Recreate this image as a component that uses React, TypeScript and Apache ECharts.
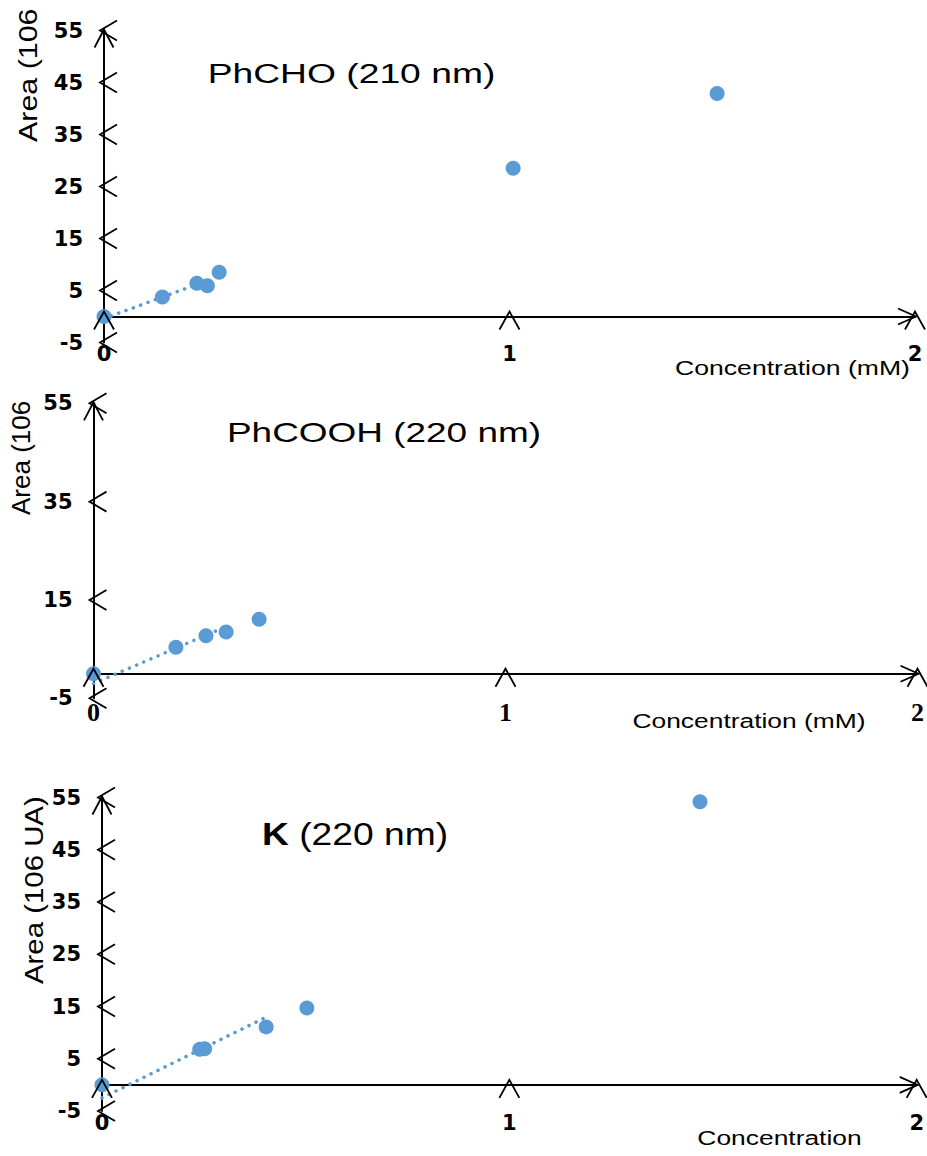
import React, { useEffect, useRef } from 'react';
import * as echarts from 'echarts';

// ---------- data ----------
const xTicks = [0, 1, 2];
const yTicks1 = [-5, 5, 15, 25, 35, 45, 55];
const yTicks2 = [-5, 15, 35, 55];
const yTicks3 = [-5, 5, 15, 25, 35, 45, 55];

const phchoConc = [0, 0.144, 0.229, 0.255, 0.284, 1.009, 1.512];
const phchoArea = [0, 3.75, 6.4, 5.9, 8.5, 28.5, 42.9];
const phchoTrendConc = [0, 0.255];
const phchoTrendArea = [-0.4, 6.9];

const phcoohConc = [0, 0.2, 0.273, 0.322, 0.402];
const phcoohArea = [0, 5.4, 7.7, 8.5, 11.1];
const phcoohTrendConc = [0, 0.322];
const phcoohTrendArea = [-2.0, 9.6];

const kConc = [0, 0.24, 0.252, 0.403, 0.503, 1.468];
const kArea = [0, 6.8, 6.9, 11.1, 14.7, 54.2];
const kTrendConc = [0, 0.404];
const kTrendArea = [-2.5, 13.0];

const yNameShort = 'Area (106';
const yNameFull = 'Area (106 UA)';
const xName1 = 'Concentration (mM)';
const xName3 = 'Concentration';

// ---------- helpers ----------
const BLUE = '#5B9BD5';
const SANS = "'Liberation Sans', Arial, sans-serif";
const DEJAVU = "'DejaVu Sans', sans-serif";
const SERIF = "'Liberation Serif', 'Times New Roman', serif";
const ARROW = { stroke: '#000', lineWidth: 1.8, fill: 'none' };

function zip(a: number[], b: number[]) {
  return a.map((v, i) => [v, b[i]]);
}

function yTickRender(params: any, api: any) {
  const v = api.value(1);
  const p = api.coord([0, v]);
  const x = p[0], y = p[1];
  const children: any[] = [
    { type: 'polyline', shape: { points: [[x + 13, y - 10], [x - 4, y], [x + 13, y + 10]] }, style: ARROW },
  ];
  if (params.dataIndex === params.dataInsideLength - 1) {
    children.push({ type: 'polyline', shape: { points: [[x - 9.5, y + 17], [x, y - 1], [x + 9.5, y + 17]] }, style: ARROW });
  }
  return { type: 'group', children };
}

function xTickRender(params: any, api: any) {
  const v = api.value(0);
  const p = api.coord([v, 0]);
  const x = p[0], y = p[1];
  const children: any[] = [
    { type: 'polyline', shape: { points: [[x - 10, y + 13], [x, y - 5], [x + 10, y + 13]] }, style: ARROW },
  ];
  if (params.dataIndex === params.dataInsideLength - 1) {
    children.push({ type: 'polyline', shape: { points: [[x - 17, y - 8], [x + 1, y], [x - 17, y + 8]] }, style: ARROW });
  }
  return { type: 'group', children };
}

type Cfg = {
  yTicks: number[];
  conc: number[];
  area: number[];
  trendConc: number[];
  trendArea: number[];
  grid: { left: number; top: number; width: number; height: number };
  xLabel: any;
  yLabelPad: number;
  graphic: any[];
};

function makeOption(cfg: Cfg) {
  const yt = cfg.yTicks;
  return {
    animation: false,
    grid: cfg.grid,
    xAxis: {
      type: 'value',
      min: xTicks[0],
      max: xTicks[xTicks.length - 1],
      interval: xTicks[1] - xTicks[0],
      axisLine: { show: true, onZero: true, lineStyle: { color: '#000', width: 2 } },
      axisTick: { show: false },
      splitLine: { show: false },
      axisLabel: { color: '#000', fontWeight: 'bold', ...cfg.xLabel },
    },
    yAxis: {
      type: 'value',
      min: yt[0],
      max: yt[yt.length - 1],
      interval: yt[1] - yt[0],
      axisLine: { show: true, onZero: true, lineStyle: { color: '#000', width: 2 } },
      axisTick: { show: false },
      splitLine: { show: false },
      axisLabel: {
        color: '#000',
        fontWeight: 'bold',
        fontFamily: DEJAVU,
        fontSize: 21,
        margin: 21,
        padding: [cfg.yLabelPad, 0, 0, 0],
      },
    },
    series: [
      {
        type: 'line',
        data: zip(cfg.trendConc, cfg.trendArea),
        symbol: 'none',
        silent: true,
        z: 2,
        lineStyle: { color: BLUE, width: 3.5, type: [0.1, 7.7], cap: 'round' },
      },
      {
        type: 'scatter',
        data: zip(cfg.conc, cfg.area),
        symbolSize: 15,
        z: 3,
        itemStyle: { color: BLUE, opacity: 1 },
      },
      {
        type: 'custom',
        data: yt.map((v) => [0, v]),
        renderItem: yTickRender,
        clip: false,
        silent: true,
        z: 10,
      },
      {
        type: 'custom',
        data: xTicks.map((v) => [v, 0]),
        renderItem: xTickRender,
        clip: false,
        silent: true,
        z: 10,
      },
    ],
    graphic: cfg.graphic,
  };
}

function txt(text: string, x: number, y: number, size: number, scaleX: number, extra: any = {}) {
  return {
    type: 'text',
    x,
    y,
    scaleX,
    style: {
      text,
      fontFamily: SANS,
      fontSize: size,
      fill: '#000',
      align: 'center',
      verticalAlign: 'middle',
      ...extra,
    },
  };
}

function yNameText(text: string, x: number, y: number, stretch: number) {
  return {
    type: 'text',
    x,
    y,
    rotation: Math.PI / 2,
    scaleX: stretch,
    style: {
      text,
      fontFamily: SANS,
      fontSize: 26,
      fill: '#000',
      align: 'left',
      verticalAlign: 'middle',
    },
  };
}

const T1 = 0, T2 = 388, T3 = 750;

const PANELS: { top: number; height: number; cfg: Cfg }[] = [
  {
    top: T1,
    height: T2 - T1,
    cfg: {
      yTicks: yTicks1,
      conc: phchoConc,
      area: phchoArea,
      trendConc: phchoTrendConc,
      trendArea: phchoTrendArea,
      grid: { left: 104, top: 30.5 - T1, width: 811, height: 312 },
      xLabel: { fontFamily: DEJAVU, fontSize: 21, margin: 1 },
      yLabelPad: 12,
      graphic: [
        txt('PhCHO (210 nm)', 351.5, 73 - T1, 28, 1.33),
        txt(xName1, 792.5, 368 - T1, 20, 1.33),
        yNameText(yNameShort, 28, 142 - T1, 1.17),
      ],
    },
  },
  {
    top: T2,
    height: T3 - T2,
    cfg: {
      yTicks: yTicks2,
      conc: phcoohConc,
      area: phcoohArea,
      trendConc: phcoohTrendConc,
      trendArea: phcoohTrendArea,
      grid: { left: 93.5, top: 403.3 - T2, width: 825, height: 295 },
      xLabel: { fontFamily: SERIF, fontSize: 26, margin: 1 },
      yLabelPad: 4,
      graphic: [
        txt('PhCOOH (220 nm)', 384, 431.7 - T2, 28, 1.32),
        txt(xName1, 749, 721 - T2, 20, 1.32),
        yNameText(yNameShort, 21, 515 - T2, 1.0),
      ],
    },
  },
  {
    top: T3,
    height: 1156 - T3,
    cfg: {
      yTicks: yTicks3,
      conc: kConc,
      area: kArea,
      trendConc: kTrendConc,
      trendArea: kTrendArea,
      grid: { left: 102, top: 797.5 - T3, width: 818, height: 313.5 },
      xLabel: { fontFamily: DEJAVU, fontSize: 21, margin: 1 },
      yLabelPad: 12,
      graphic: [
        {
          type: 'text',
          x: 355,
          y: 834 - T3,
          scaleX: 1.2,
          style: {
            text: '{b|K} (220 nm)',
            fontFamily: SANS,
            fontSize: 31,
            fill: '#000',
            align: 'center',
            verticalAlign: 'middle',
            rich: { b: { fontFamily: SANS, fontSize: 31, fontWeight: 'bold', fill: '#000' } },
          },
        },
        txt(xName3, 779.5, 1138 - T3, 20, 1.32),
        yNameText(yNameFull, 34, 984 - T3, 1.13),
      ],
    },
  },
];

function Panel({ top, height, cfg }: { top: number; height: number; cfg: Cfg }) {
  const ref = useRef<HTMLDivElement>(null);
  useEffect(() => {
    const chart = echarts.init(ref.current!, undefined, { renderer: 'svg' });
    chart.setOption(makeOption(cfg) as any);
    return () => chart.dispose();
  }, []);
  return (
    <div
      ref={ref}
      style={{ position: 'absolute', left: 0, top, width: 927, height, overflow: 'hidden' }}
    />
  );
}

export default function App() {
  return (
    <div style={{ position: 'absolute', left: 0, top: 0, width: 927, height: 1156, background: '#fff' }}>
      {PANELS.map((p, i) => (
        <Panel key={i} top={p.top} height={p.height} cfg={p.cfg} />
      ))}
    </div>
  );
}
